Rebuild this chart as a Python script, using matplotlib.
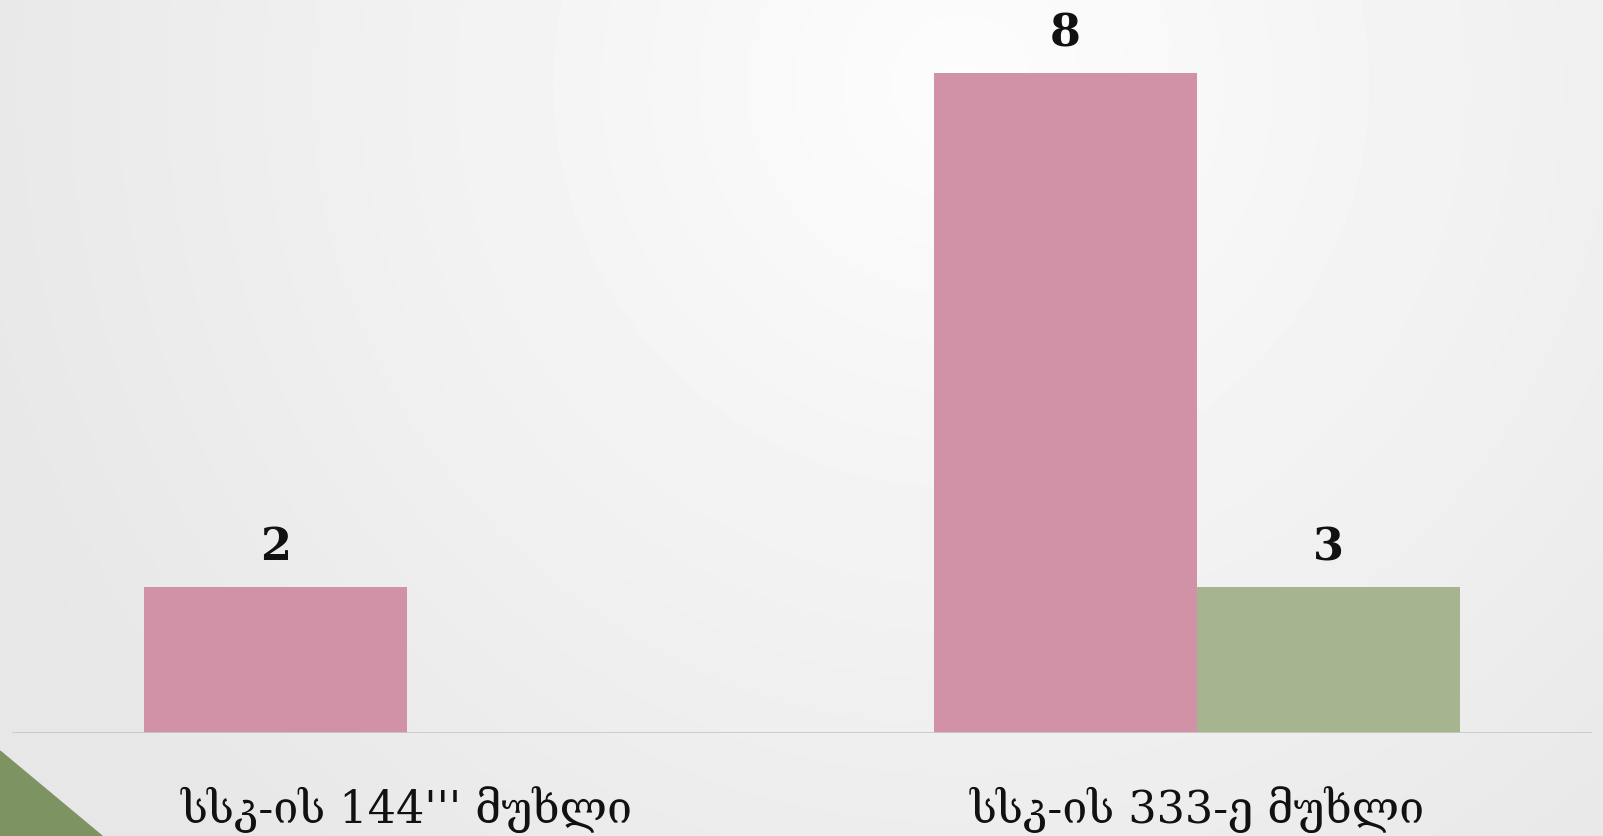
import matplotlib
matplotlib.use("Agg")
import matplotlib.pyplot as plt
import numpy as np
from matplotlib.patches import Polygon

# categories and series
categories = ["სსკ-ის 144''' მუხლი", "სსკ-ის 333-ე მუხლი"]
pink_values = [1.77, 8]      # bar heights as drawn
green_values = [0, 1.77]
pink_labels = ["2", "8"]     # data labels as printed on the chart
green_labels = ["", "3"]

pink = "#D191A7"
green = "#A6B490"

fig = plt.figure(figsize=(16.03, 8.37), dpi=100)

# soft radial background
bg = fig.add_axes([0, 0, 1, 1], zorder=-10)
yy, xx = np.mgrid[0:1:200j, 0:1:400j]
r = np.sqrt(((xx - 0.6) * 1.9) ** 2 + (yy - 0.1) ** 2)
r = np.clip(r / 1.25, 0, 1)
shade = 0.99 - 0.085 * r
bg.imshow(shade, cmap="gray", vmin=0, vmax=1, aspect="auto",
          extent=[0, 1, 1, 0], interpolation="bicubic")
bg.axis("off")

ax = fig.add_axes([12 / 1603, 1 - 734 / 837, 1580 / 1603, 734 / 837])
ax.set_facecolor("none")

x = np.arange(len(categories))
w = 1 / 3
ax.bar(x - w / 2, pink_values, w, color=pink)
ax.bar(x + w / 2, green_values, w, color=green)

ax.set_xlim(-0.5, 1.5)
ax.set_ylim(0, 8 * 734 / 660)
ax.axhline(0, color="#c8c8c8", lw=2, zorder=5)

for spine in ax.spines.values():
    spine.set_visible(False)
ax.set_xticks([])
ax.set_yticks([])

fam = ["DejaVu Serif", "DejaVu Sans"]
for xi, v, lab in zip(x - w / 2, pink_values, pink_labels):
    if lab:
        ax.annotate(lab, (xi, v), xytext=(0, 20), textcoords="offset points",
                    ha="center", va="baseline", fontsize=32, fontweight="bold",
                    family=fam, color="#111111")
for xi, v, lab in zip(x + w / 2, green_values, green_labels):
    if lab:
        ax.annotate(lab, (xi, v), xytext=(0, 20), textcoords="offset points",
                    ha="center", va="baseline", fontsize=32, fontweight="bold",
                    family=fam, color="#111111")

for xi, cat in zip(x, categories):
    ax.annotate(cat, (xi, 0), xycoords=("data", "axes fraction"),
                xytext=(0, -64), textcoords="offset points",
                ha="center", va="baseline", fontsize=32, family=fam,
                color="#111111", annotation_clip=False)

# green corner triangle
tri = Polygon([(0, 1 - 752 / 837), (102 / 1603, 0), (0, 0)], closed=True,
              transform=fig.transFigure, color="#7D9462", zorder=1)
fig.patches.append(tri)

fig.savefig("out.png", dpi=100)
